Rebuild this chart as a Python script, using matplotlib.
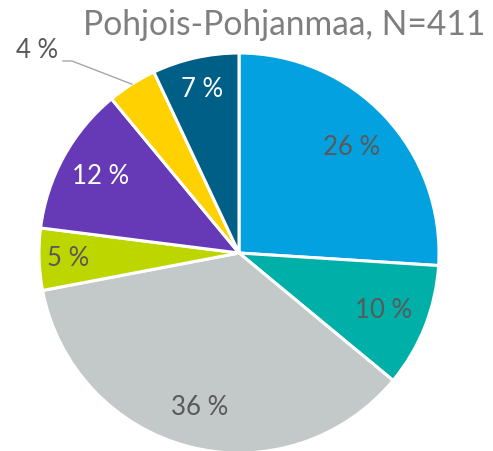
import numpy as np
import matplotlib
matplotlib.use('Agg')
import matplotlib.pyplot as plt

title = 'Pohjois-Pohjanmaa, N=411'
shares = [26, 10, 36, 5, 12, 4, 7]
labels = ['26 %', '10 %', '36 %', '5 %', '12 %', '4 %', '7 %']
colors = ['#03A1E0', '#00B0A8', '#C3C8C8', '#BED600', '#6639B7', '#FFD100', '#005F86']
text_colors = ['#595959', '#595959', '#595959', '#595959', 'white', '#595959', 'white']
label_dist = [0.77, 0.78, 0.80, 0.855, 0.79, None, 0.84]

plt.rcParams['font.family'] = ['Lato', 'DejaVu Sans']

fig = plt.figure(figsize=(4.93, 4.51), dpi=100)
ax = fig.add_axes([0, 0, 1, 1])

cx, cy, R = 239, 198, 200
wedges, _ = ax.pie(shares, colors=colors, startangle=90, counterclock=False,
                   center=(cx, cy), radius=R, frame=True,
                   wedgeprops=dict(edgecolor='white', linewidth=2.2))
ax.set_xlim(0, 493)
ax.set_ylim(0, 451)
ax.set_aspect('equal')
ax.axis('off')

for w, lab, tc, d in zip(wedges, labels, text_colors, label_dist):
    mid = np.deg2rad((w.theta1 + w.theta2) / 2)
    if d is None:
        # outside label with leader line
        ex, ey = cx + R * np.cos(mid), cy + R * np.sin(mid)
        ax.plot([ex, 72, 63], [ey, 390, 390], color='#A6A6A6', lw=1)
        ax.text(58, 400, lab, ha='right', va='center', fontsize=18.5, color=tc)
        continue
    x = cx + d * R * np.cos(mid)
    y = cy + d * R * np.sin(mid)
    ax.text(x, y, lab, ha='center', va='center', fontsize=18.5, color=tc)

fig.text(485 / 493, 1 - 35 / 451, title, ha='right', va='baseline',
         fontsize=24.2, color='#7F7F7F')

plt.savefig('out.png', dpi=100)
